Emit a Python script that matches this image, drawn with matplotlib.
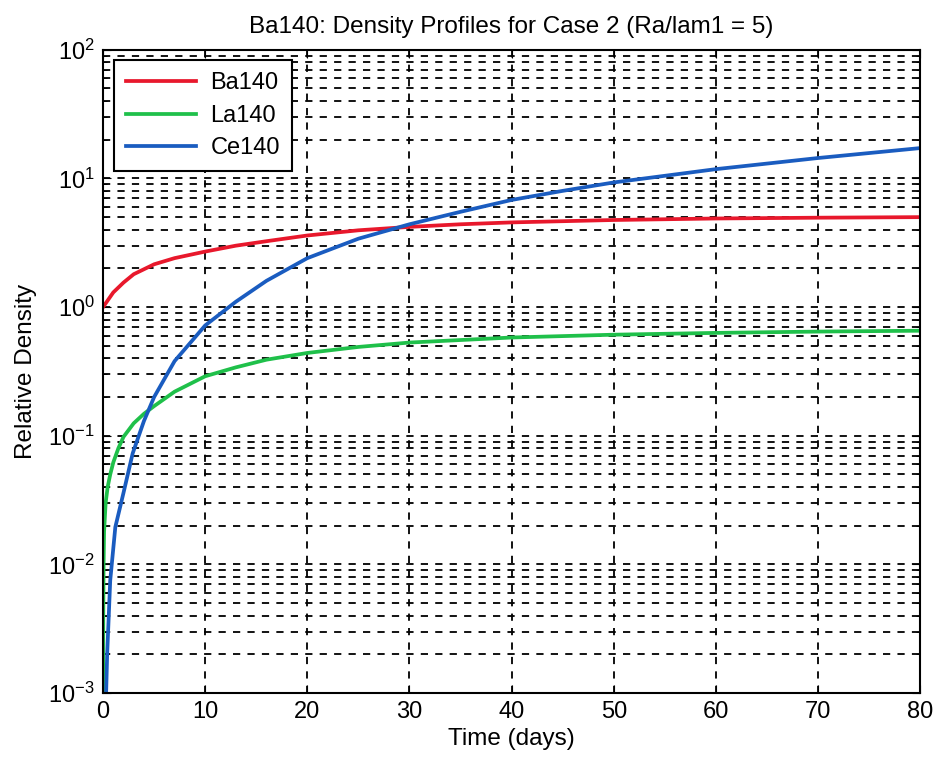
import numpy as np
import matplotlib.pyplot as plt
from matplotlib.ticker import LogLocator, NullFormatter

plt.rcParams['font.family'] = ['Liberation Sans', 'DejaVu Sans']
plt.rcParams['mathtext.fontset'] = 'custom'
plt.rcParams['mathtext.rm'] = 'Liberation Sans'

# values
t_ba = [0, 1, 2, 3, 5, 7, 10, 13, 16, 20, 25, 30, 35, 40, 50, 60, 70, 80]
ba140 = [1.0, 1.3, 1.55, 1.8, 2.15, 2.4, 2.7, 3.0, 3.25, 3.6, 3.95, 4.2, 4.4, 4.55, 4.75, 4.88, 4.95, 5.0]

t_la = [0, 0.02, 0.05, 0.1, 0.25, 0.45, 0.7, 1.0, 1.5, 2.0, 3.0, 4.0, 5.0, 7.0, 10, 13, 16, 20, 25, 30, 40, 50, 60, 70, 80]
la140 = [0.0005, 0.004, 0.01, 0.018, 0.03, 0.04, 0.05, 0.062, 0.08, 0.098, 0.125, 0.148, 0.17, 0.22, 0.29, 0.34, 0.39, 0.44, 0.49, 0.53, 0.58, 0.61, 0.63, 0.645, 0.655]

t_ce = [0, 0.3, 0.4, 0.7, 1.2, 2.0, 2.9, 4.0, 5.0, 7.0, 10, 13, 16, 20, 25, 30, 35, 40, 45, 50, 60, 70, 80]
ce140 = [0.0005, 0.001, 0.002, 0.0075, 0.0195, 0.036, 0.073, 0.13, 0.2, 0.38, 0.72, 1.1, 1.6, 2.4, 3.4, 4.4, 5.5, 6.8, 8.0, 9.3, 11.8, 14.4, 17.2]

fig = plt.figure(figsize=(9.37, 7.65), dpi=100)
ax = fig.add_axes([0.110, 0.094, 0.872, 0.841])

ax.plot(t_ba, ba140, color='#e8182c', lw=2.7, label='Ba140')
ax.plot(t_la, la140, color='#1fc04a', lw=2.7, label='La140')
ax.plot(t_ce, ce140, color='#1a5cc0', lw=2.7, label='Ce140')

ax.set_yscale('log')
ax.set_xlim(0, 80)
ax.set_ylim(1e-3, 1e2)
ax.set_xticks(np.arange(0, 81, 10))
ax.yaxis.set_major_locator(LogLocator(base=10, numticks=10))
ax.yaxis.set_minor_locator(LogLocator(base=10, subs=np.arange(2, 10), numticks=10))
ax.yaxis.set_minor_formatter(NullFormatter())

ax.grid(True, which='major', axis='both', color='black', linestyle=(0, (4, 4)), lw=1.3)
ax.grid(True, which='minor', axis='y', color='black', linestyle=(0, (4, 4)), lw=1.3)
ax.tick_params(which='both', direction='in', top=True, right=True, labelsize=17)
ax.tick_params(which='major', length=6, pad=6)
ax.tick_params(which='minor', length=3)
for s in ax.spines.values():
    s.set_linewidth(1.5)

ax.set_title('Ba140: Density Profiles for Case 2 (Ra/lam1 = 5)', fontsize=17.5, pad=12)
ax.set_xlabel('Time (days)', fontsize=17.5, labelpad=3)
ax.set_ylabel('Relative Density', fontsize=17.5, labelpad=8)

leg = ax.legend(loc='upper left', fontsize=17, fancybox=False, framealpha=1,
                edgecolor='black', borderaxespad=0.45, handlelength=3.0,
                handletextpad=0.6, labelspacing=0.45, borderpad=0.5)
leg.get_frame().set_linewidth(1.5)

fig.savefig('out.png', dpi=100)
